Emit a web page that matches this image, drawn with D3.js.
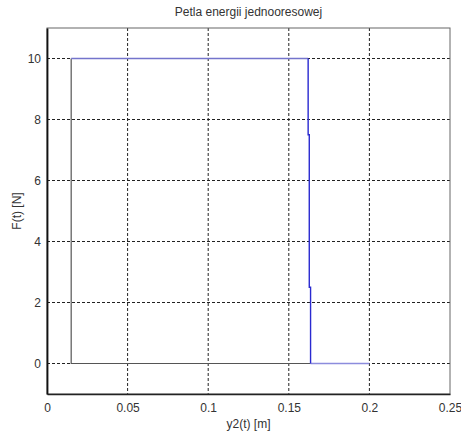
<!DOCTYPE html>
<html>
<head>
<meta charset="utf-8">
<script src="https://cdn.jsdelivr.net/npm/d3@7"></script>
<style>
  body { margin: 0; background: #fff; }
  text { font-family: "Liberation Sans", Arial, sans-serif; fill: #333; }
</style>
</head>
<body>
<svg id="chart"></svg>
<script>
// dane petli energii
const xTicks = [0, 0.05, 0.1, 0.15, 0.2, 0.25];
const yTicks = [0, 2, 4, 6, 8, 10];

// lewa i dolna krawedz (szara)
const grayX = [0.1635, 0.015, 0.015];
const grayY = [0, 0, 10];
// gorna krawedz (niebieska)
const topX = [0.015, 0.162];
const topY = [10, 10];
// prawa krawedz - skok
const jumpX = [0.162, 0.162, 0.1627, 0.1627, 0.1635, 0.1635];
const jumpY = [10, 7.5, 7.5, 2.5, 2.5, 0];
// dolna za skokiem
const tailX = [0.1635, 0.2];
const tailY = [0, 0];

function drawLoop(svgSelector, width, height) {
    const svg = d3.select(svgSelector)
        .attr("width", width)
        .attr("height", height);

    const margin = { top: 28, right: 11, bottom: 43, left: 47 };
    const w = width - margin.left - margin.right;
    const h = height - margin.top - margin.bottom;

    const x = d3.scaleLinear().domain([0, 0.25]).range([margin.left, margin.left + w]);
    const y = d3.scaleLinear().domain([-1, 11]).range([margin.top + h, margin.top]);

    // siatka
    svg.append("g")
        .selectAll("line")
        .data(xTicks.slice(1, -1))
        .enter().append("line")
        .attr("x1", d => x(d)).attr("x2", d => x(d))
        .attr("y1", margin.top).attr("y2", margin.top + h)
        .attr("stroke", "#222")
        .attr("stroke-width", 1)
        .attr("stroke-dasharray", "3,2");

    svg.append("g")
        .selectAll("line")
        .data(yTicks)
        .enter().append("line")
        .attr("x1", margin.left).attr("x2", margin.left + w)
        .attr("y1", d => y(d)).attr("y2", d => y(d))
        .attr("stroke", "#222")
        .attr("stroke-width", 1)
        .attr("stroke-dasharray", "3,2");

    // ramka
    svg.append("rect")
        .attr("x", margin.left).attr("y", margin.top)
        .attr("width", w).attr("height", h)
        .attr("fill", "none")
        .attr("stroke", "#666")
        .attr("stroke-width", 1);

    // osie
    const xAxis = svg.append("g")
        .attr("transform", `translate(0,${margin.top + h})`)
        .call(d3.axisBottom(x).tickValues(xTicks).tickSize(0).tickPadding(9)
            .tickFormat(d => d3.format("~g")(d)));
    xAxis.select(".domain").attr("stroke", "#222").attr("stroke-width", 1.5);
    xAxis.selectAll("text").attr("font-size", "12px").attr("fill", "#333");

    const yAxis = svg.append("g")
        .attr("transform", `translate(${margin.left},0)`)
        .call(d3.axisLeft(y).tickValues(yTicks).tickSize(0).tickPadding(6));
    yAxis.select(".domain").attr("stroke", "#111").attr("stroke-width", 1.8);
    yAxis.selectAll("text").attr("font-size", "12px").attr("fill", "#333");

    // linie danych
    const line = d3.line().x(d => x(d[0])).y(d => y(d[1]));
    const seg = (xs, ys, color, sw) => svg.append("path")
        .datum(xs.map((v, i) => [v, ys[i]]))
        .attr("d", line)
        .attr("fill", "none")
        .attr("stroke", color)
        .attr("stroke-width", sw);

    seg(grayX, grayY, "#555", 1.2);
    seg(topX, topY, "#7474cc", 1.3);
    seg(tailX, tailY, "#8c8cdd", 1.3);
    seg(jumpX, jumpY, "#2a2ad0", 1.4);

    // tytul i opisy
    svg.append("text")
        .attr("x", margin.left + w / 2).attr("y", 16)
        .attr("text-anchor", "middle")
        .attr("font-size", "12px")
        .text("Petla energii jednooresowej");

    svg.append("text")
        .attr("x", margin.left + w / 2).attr("y", 428)
        .attr("text-anchor", "middle")
        .attr("font-size", "12px")
        .text("y2(t) [m]");

    svg.append("text")
        .attr("transform", `translate(21,${margin.top + h / 2}) rotate(-90)`)
        .attr("text-anchor", "middle")
        .attr("font-size", "12px")
        .text("F(t) [N]");
}

drawLoop("#chart", 461, 437);
</script>
</body>
</html>
